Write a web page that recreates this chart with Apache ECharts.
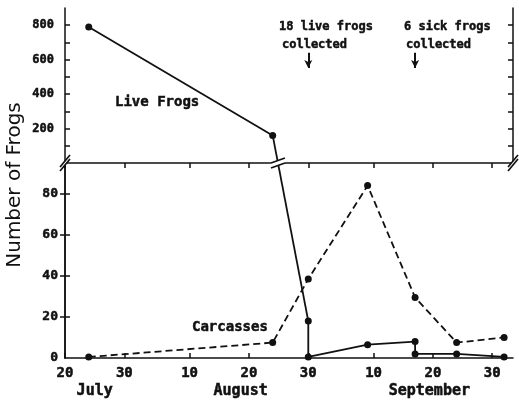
<!DOCTYPE html>
<html>
<head>
<meta charset="utf-8">
<script src="https://cdn.jsdelivr.net/npm/echarts@6/dist/echarts.min.js"></script>
<style>
  html, body { margin: 0; padding: 0; background: #fff; }
  #chart { width: 519px; height: 403px; }
</style>
</head>
<body>
<div id="chart"></div>
<script>
// days counted from July 20
const liveDays = [4, 35, 41, 41, 51, 59, 59, 66, 74];
const liveFrogs = [790, 160, 18, 0.5, 6.5, 8, 2, 2, 0.5];
const carcassDays = [4, 35, 41, 51, 59, 66, 74];
const carcasses = [0.5, 7.5, 38.5, 84, 29.5, 7.5, 10];

const dayTicks = [0, 10, 21, 31, 41, 52, 62, 72];
const dayLabels = ['20', '30', '10', '20', '30', '10', '20', '30'];
const monthPos = [5, 29.6, 61.4];
const monthNames = ['July', 'August', 'September'];

const upperTicks = [100, 200, 300, 400, 500, 600, 700, 800];
const upperLabels = [200, 400, 600, 800];
const lowerTicks = [20, 40, 60, 80];
const lowerLabels = [0, 20, 40, 60, 80];

const breakValue = 95; // above this the upper scale is used
const arrowDays = [41, 59];

const mono = 'DejaVu Sans Mono';
const ink = '#111';

// split live frogs between the two panels
const liveUpper = [], liveLower = [];
liveDays.forEach((d, i) => {
  if (liveFrogs[i] > breakValue) liveUpper.push([d, liveFrogs[i]]);
  else liveLower.push([d, liveFrogs[i]]);
});
const carcassData = carcassDays.map((d, i) => [d, carcasses[i]]);

const axisLine = { show: true, lineStyle: { color: ink, width: 1.5 } };
const tick = (vals) => ({ show: true, inside: true, length: 5, customValues: vals, lineStyle: { color: ink, width: 1.5 } });
const labelFont = (size) => ({ color: ink, fontFamily: mono, fontWeight: 'bold', fontSize: size, textBorderColor: ink, textBorderWidth: 0.5 });

const option = {
  animation: false,
  grid: [
    { left: 65, right: 6, top: 8, height: 155 },
    { left: 65, right: 6, top: 163, height: 195 }
  ],
  xAxis: [
    {
      gridIndex: 0, type: 'value', position: 'top', min: 0, max: 75.5,
      axisLine: axisLine, axisTick: tick(dayTicks),
      axisLabel: { show: false }, splitLine: { show: false }
    },
    {
      gridIndex: 1, type: 'value', position: 'bottom', min: 0, max: 75.5,
      axisLine: axisLine, axisTick: tick(dayTicks),
      axisLabel: Object.assign({
        customValues: dayTicks, margin: 8,
        formatter: (v) => dayLabels[dayTicks.indexOf(v)]
      }, labelFont(14)),
      splitLine: { show: false }
    },
    {
      gridIndex: 1, type: 'value', position: 'bottom', offset: 18, min: 0, max: 75.5,
      axisLine: { show: false }, axisTick: { show: false },
      axisLabel: Object.assign({
        customValues: monthPos, margin: 8,
        formatter: (v) => monthNames[monthPos.indexOf(v)]
      }, labelFont(15)),
      splitLine: { show: false }
    }
  ],
  yAxis: [
    {
      gridIndex: 0, type: 'value', position: 'left', min: 0, max: 900,
      axisLine: axisLine, axisTick: tick(upperTicks),
      axisLabel: Object.assign({ customValues: upperLabels, margin: 11 }, labelFont(12)),
      splitLine: { show: false }
    },
    {
      gridIndex: 0, type: 'value', position: 'right', min: 0, max: 900,
      axisLine: axisLine, axisTick: tick(upperTicks),
      axisLabel: { show: false }, splitLine: { show: false }
    },
    {
      gridIndex: 1, type: 'value', position: 'left', min: 0, max: 95,
      axisLine: axisLine, axisTick: tick(lowerTicks),
      axisLabel: Object.assign({ customValues: lowerLabels, margin: 7 }, labelFont(13)),
      splitLine: { show: false }
    },
    {
      gridIndex: 1, type: 'value', position: 'right', min: 0, max: 95,
      axisLine: axisLine, axisTick: tick(lowerTicks),
      axisLabel: { show: false }, splitLine: { show: false }
    }
  ],
  series: [
    {
      name: 'Live Frogs', type: 'line', xAxisIndex: 0, yAxisIndex: 0,
      data: liveUpper, symbol: 'circle', symbolSize: 7,
      itemStyle: { color: ink }, lineStyle: { color: ink, width: 1.8 },
      markLine: {
        silent: true, symbol: ['none', 'arrow'], symbolSize: [6, 8],
        label: { show: false },
        lineStyle: { color: ink, width: 2, type: 'solid' },
        data: arrowDays.map((d) => [{ coord: [d, 640] }, { coord: [d, 552] }])
      }
    },
    {
      name: 'Live Frogs (low)', type: 'line', xAxisIndex: 1, yAxisIndex: 2,
      data: liveLower, symbol: 'circle', symbolSize: 7,
      itemStyle: { color: ink }, lineStyle: { color: ink, width: 1.8 }
    },
    {
      name: 'Carcasses', type: 'line', xAxisIndex: 1, yAxisIndex: 2,
      data: carcassData, symbol: 'circle', symbolSize: 7,
      itemStyle: { color: ink }, lineStyle: { color: ink, width: 1.8, type: [7, 4] }
    }
  ]
};

const chart = echarts.init(document.getElementById('chart'));
chart.setOption(option);

// join the live frog line across the break, and draw the break marks
const p1 = chart.convertToPixel({ xAxisIndex: 0, yAxisIndex: 0 }, liveUpper[liveUpper.length - 1]);
const p2 = chart.convertToPixel({ xAxisIndex: 1, yAxisIndex: 2 }, liveLower[0]);
const yb = chart.convertToPixel({ yAxisIndex: 0 }, 0);
const xl = chart.convertToPixel({ xAxisIndex: 0 }, 0);
const xr = chart.convertToPixel({ xAxisIndex: 0 }, 75.5);
const xc = p1[0] + (yb - p1[1]) / (p2[1] - p1[1]) * (p2[0] - p1[0]);

function breakMark(cx, cy, dx, dy, gap) {
  return [
    { type: 'polygon', z: 100, shape: { points: [
      [cx - dx, cy - gap / 2 + dy], [cx + dx, cy - gap / 2 - dy],
      [cx + dx, cy + gap / 2 - dy], [cx - dx, cy + gap / 2 + dy]] },
      style: { fill: '#fff' } },
    { type: 'line', z: 101, shape: { x1: cx - dx, y1: cy - gap / 2 + dy, x2: cx + dx, y2: cy - gap / 2 - dy },
      style: { stroke: ink, lineWidth: 1.7 } },
    { type: 'line', z: 101, shape: { x1: cx - dx, y1: cy + gap / 2 + dy, x2: cx + dx, y2: cy + gap / 2 - dy },
      style: { stroke: ink, lineWidth: 1.7 } }
  ];
}

const txt = (x, y, text, size) => ({
  type: 'text', x: x, y: y, z: 100,
  style: { text: text, fill: ink, stroke: ink, lineWidth: 0.5, font: 'bold ' + size + 'px "' + mono + '"',
    align: 'left', verticalAlign: 'middle' }
});

chart.setOption({
  graphic: [
    { type: 'line', z: 50, shape: { x1: p1[0], y1: p1[1], x2: p2[0], y2: p2[1] },
      style: { stroke: ink, lineWidth: 1.8 } },
    ...breakMark(xl, yb, 5, 6, 4),
    ...breakMark(xr, yb, 5, 6, 4),
    ...breakMark(xc, yb, 7, 2.5, 5),
    txt(115, 102, 'Live Frogs', 14),
    txt(192, 327, 'Carcasses', 14),
    txt(279, 27, '18 live frogs', 12),
    txt(282, 45, 'collected', 12),
    txt(404, 27, '6 sick frogs', 12),
    txt(406, 45, 'collected', 12),
    {
      type: 'text', x: 15, y: 185, rotation: Math.PI / 2, z: 100,
      style: { text: 'Number of Frogs', fill: ink, font: '20px "DejaVu Sans"', align: 'center', verticalAlign: 'middle' }
    }
  ]
});

window.addEventListener('resize', () => chart.resize());
</script>
</body>
</html>
